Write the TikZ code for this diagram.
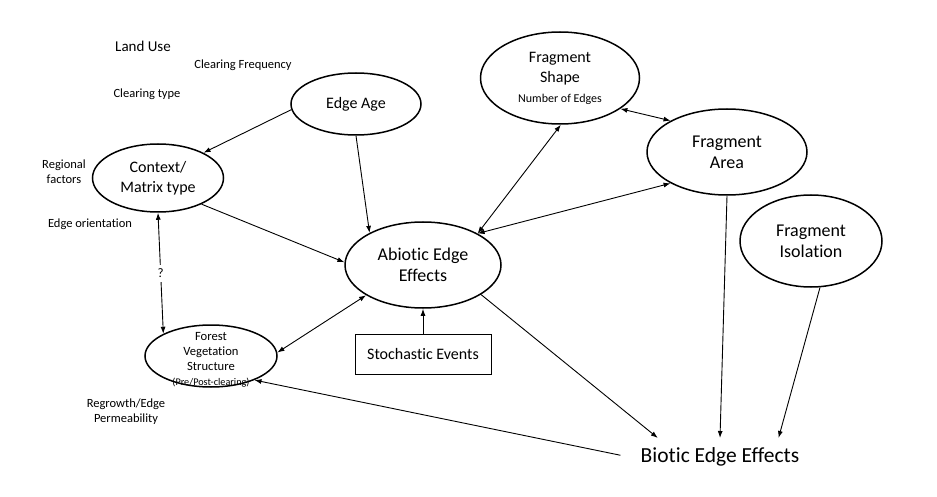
\documentclass[tikz,border=0pt]{standalone}
\usepackage{fontspec}
\setmainfont{Carlito}[Ligatures=NoCommon]
\usetikzlibrary{arrows.meta,shapes.geometric}
\begin{document}
\begin{tikzpicture}[x=1pt,y=-1pt,
  ell/.style={draw, ellipse, line width=1.5pt, inner sep=-12pt, align=center},
  con/.style={line width=0.9pt},
  arr/.style={con, -{Latex[length=7pt,width=5pt]}},
  darr/.style={con, {Latex[length=7pt,width=5pt]}-{Latex[length=7pt,width=5pt]}},
  lbl/.style={inner sep=0pt, align=center, font=\fontsize{12.5}{15}\selectfont}
]
\useasboundingbox (0,0) rectangle (937,497);

% ellipses
\node[ell, minimum width=130pt, minimum height=62pt, font=\fontsize{16}{19}\selectfont] (age) at (356,104) {Edge Age};
\node[ell, minimum width=131pt, minimum height=68pt, font=\fontsize{16}{20}\selectfont] (ctx) at (158,178) {Context/\\Matrix type};
\node[ell, minimum width=132pt, minimum height=62pt] (veg) at (211,356) {};
\node[lbl, font=\fontsize{12.6}{15}\selectfont] (vegtext) at (211,360) {Forest\\Vegetation\\Structure\\{\fontsize{10.2}{12}\selectfont (Pre/Post-clearing)}};
\node[ell, minimum width=156pt, minimum height=86pt, font=\fontsize{18}{21}\selectfont] (abi) at (423,265) {Abiotic Edge\\Effects};
\node[ell, minimum width=159pt, minimum height=92pt, font=\fontsize{16}{20}\selectfont] (shp) at (560,78) {Fragment\\Shape\\{\fontsize{12}{15}\selectfont Number of Edges}};
\node[ell, minimum width=160pt, minimum height=86pt, font=\fontsize{18}{21}\selectfont] (area) at (727,152) {Fragment\\Area};
\node[ell, minimum width=142pt, minimum height=92pt, font=\fontsize{18}{21}\selectfont] (iso) at (811,241) {Fragment\\Isolation};

% box and outcome
\node[draw, line width=1pt, minimum width=136pt, minimum height=40pt, font=\fontsize{16}{19}\selectfont] (sto) at (423,354) {Stochastic Events};
\node[font=\fontsize{21.5}{24}\selectfont, inner xsep=20pt, inner ysep=9.5pt] (bio) at (720,457) {Biotic Edge Effects};

% free labels
\node[lbl, font=\fontsize{15}{18}\selectfont] (land) at (143,46) {Land Use};
\node[lbl] (freq) at (243,65) {Clearing Frequency};
\node[lbl] (ctype) at (147,94) {Clearing type};
\node[lbl] (reg) at (64,172) {Regional\\factors};
\node[lbl] (ori) at (90,224) {Edge orientation};
\node[lbl] (regr) at (126,412) {Regrowth/Edge\\Permeability};

% connectors
\draw[arr] (age.185) -- (ctx.29);
\draw[arr] (age.270) -- (abi.149);
\draw[arr] (ctx.329.5) -- (abi.178);
\draw[darr] (ctx.270) -- node[lbl, fill=white, font=\fontsize{13}{15}\selectfont, inner xsep=1pt, inner ysep=4pt] (q) {?} (veg.155);
\draw[darr] (veg.3) -- (abi.208);
\draw[arr] (sto.north) -- (abi.270);
\draw[darr] (abi.30) -- (shp.271);
\draw[darr] (abi.30) -- (area.209);
\draw[darr] (shp.333) -- (area.151.5);
\draw[arr] (abi.333) -- (bio.163);
\draw[arr] (area.270) -- (bio.north);
\draw[arr] (iso.281) -- (bio.18.7);
\draw[arr] (bio.179) -- (veg.331.5);
\end{tikzpicture}
\end{document}
